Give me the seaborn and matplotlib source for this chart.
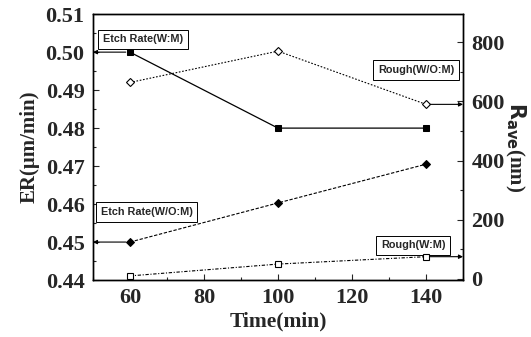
import matplotlib
matplotlib.use("Agg")
import matplotlib.pyplot as plt
import seaborn as sns
import pandas as pd
from matplotlib.ticker import MultipleLocator

sns.set_style("ticks")
plt.rcParams['font.family'] = ['Liberation Serif', 'DejaVu Serif']

time = [60, 100, 140]
er_wm = [0.500, 0.480, 0.480]
er_wom = [0.450, 0.4603, 0.4705]
rough_wom = [664, 770, 590]
rough_wm = [10, 50, 75]

fig = plt.figure(figsize=(5.31, 3.37), dpi=100)
ax = fig.add_axes([0.175, 0.169, 0.697, 0.789])
ax2 = ax.twinx()

df = pd.DataFrame({"time": time, "er_wm": er_wm, "er_wom": er_wom,
                   "rough_wom": rough_wom, "rough_wm": rough_wm})

sns.lineplot(data=df, x="time", y="er_wm", ax=ax, color="black", lw=0.9,
             marker="s", markersize=5, markeredgecolor="black", linestyle="-")
sns.lineplot(data=df, x="time", y="er_wom", ax=ax, color="black", lw=0.8,
             marker="D", markersize=4, markeredgecolor="black", linestyle=(0, (3, 1.5)))
sns.lineplot(data=df, x="time", y="rough_wom", ax=ax2, color="black", lw=0.8,
             marker="D", markersize=4.5, markerfacecolor="white", markeredgecolor="black",
             markeredgewidth=0.8, linestyle=(0, (1.5, 1.5)))
sns.lineplot(data=df, x="time", y="rough_wm", ax=ax2, color="black", lw=0.8,
             marker="s", markersize=5, markerfacecolor="white", markeredgecolor="black",
             markeredgewidth=0.8, linestyle=(0, (3, 1.5, 1, 1.5)))

ax.set_xlim(50, 150)
ax.set_ylim(0.44, 0.51)
ax2.set_ylim(-4, 895)

ax.xaxis.set_minor_locator(MultipleLocator(10))
ax.yaxis.set_minor_locator(MultipleLocator(0.005))
ax2.yaxis.set_minor_locator(MultipleLocator(100))
ax.set_xticks([60, 80, 100, 120, 140])
ax.set_yticks([0.44, 0.45, 0.46, 0.47, 0.48, 0.49, 0.50, 0.51])
ax.set_yticklabels(["0.44", "0.45", "0.46", "0.47", "0.48", "0.49", "0.50", "0.51"])
ax2.set_yticks([0, 200, 400, 600, 800])

for a in (ax, ax2):
    a.tick_params(which="both", direction="in", width=0.8, labelsize=16, pad=6)
    a.tick_params(which="major", length=4)
    a.tick_params(which="minor", length=2)
    for lab in a.get_xticklabels() + a.get_yticklabels():
        lab.set_fontweight("bold")
    for s in a.spines.values():
        s.set_visible(True)
        s.set_linewidth(1.0)
        s.set_color("black")

ax.set_xlabel("Time(min)", fontsize=15.5, fontweight="bold", labelpad=2)
ax.set_ylabel("ER(μm/min)", fontsize=15, fontweight="bold", labelpad=4)
ax2.set_ylabel(r"$\mathbf{R_{ave}}$(nm)", fontsize=15, fontweight="bold",
               rotation=270, labelpad=16)

box = dict(boxstyle="square,pad=0.45", fc="white", ec="black", lw=0.7)
tfont = dict(fontsize=7.8, family="Liberation Sans", fontweight="bold")
ax.text(0.135, 0.905, "Etch Rate(W:M)", transform=ax.transAxes, ha="center", va="center", bbox=box, **tfont)
ax.text(0.145, 0.255, "Etch Rate(W/O:M)", transform=ax.transAxes, ha="center", va="center", bbox=box, **tfont)
ax.text(0.873, 0.79, "Rough(W/O:M)", transform=ax.transAxes, ha="center", va="center", bbox=box, **tfont)
ax.text(0.865, 0.13, "Rough(W:M)", transform=ax.transAxes, ha="center", va="center", bbox=box, **tfont)

arr = dict(arrowstyle="-|>", color="black", lw=0.8, mutation_scale=6, shrinkA=3, shrinkB=0)
ax.annotate("", xy=(50, er_wm[0]), xytext=(time[0], er_wm[0]), arrowprops=arr)
ax.annotate("", xy=(50, er_wom[0]), xytext=(time[0], er_wom[0]), arrowprops=arr)
ax2.annotate("", xy=(150, rough_wom[2]), xytext=(time[2], rough_wom[2]), arrowprops=arr)
ax2.annotate("", xy=(150, rough_wm[2]), xytext=(time[2], rough_wm[2]), arrowprops=arr)

fig.savefig("out.png", dpi=100)
